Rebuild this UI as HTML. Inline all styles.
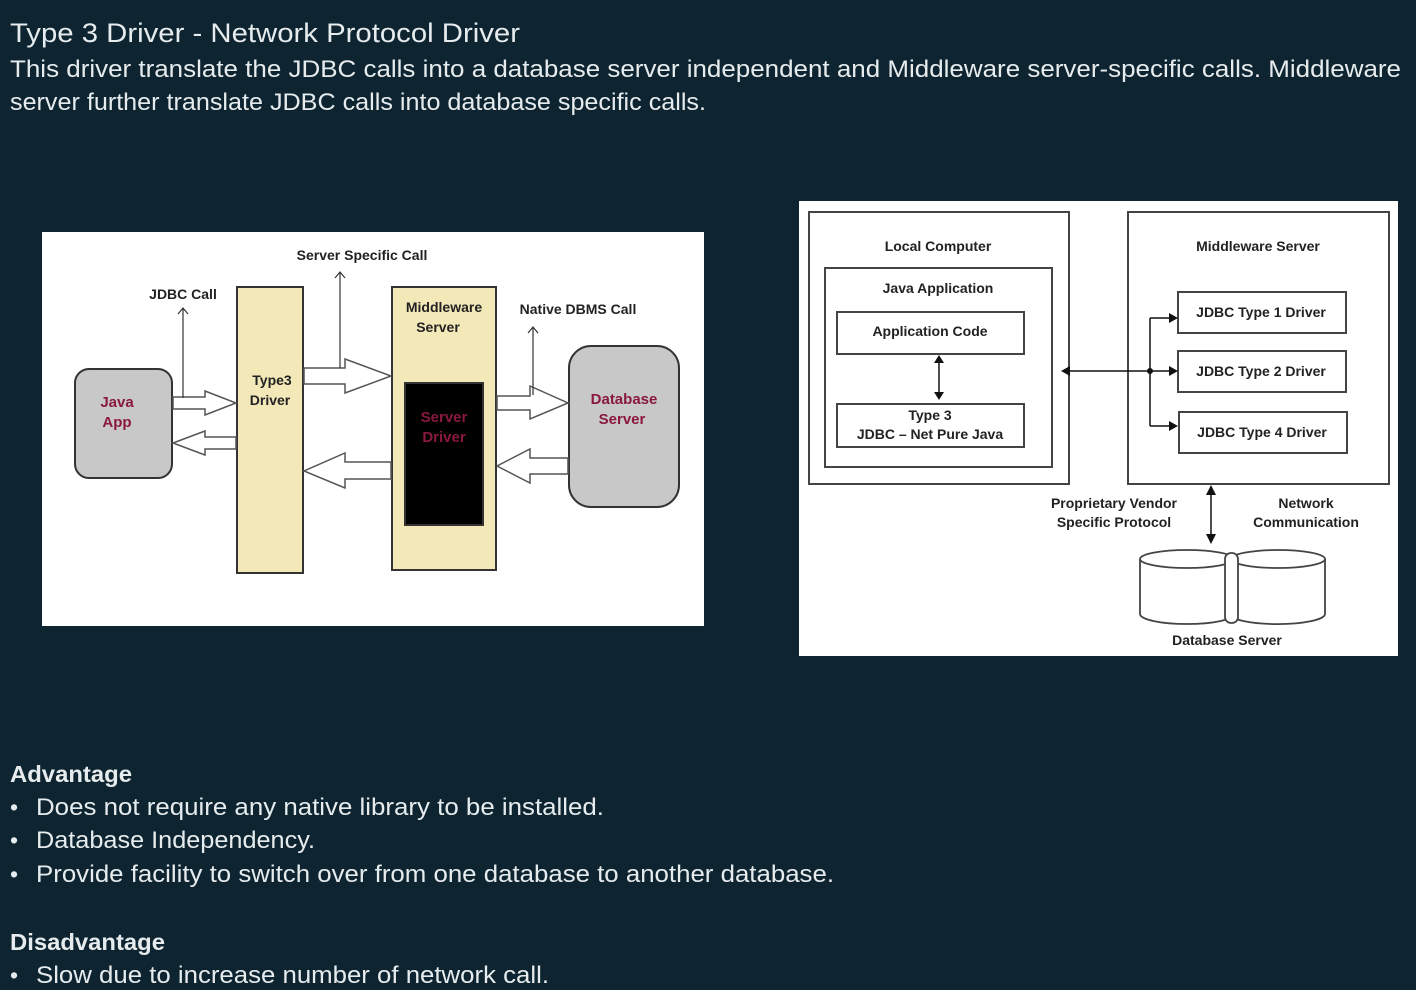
<!DOCTYPE html>
<html><head><style>
html,body{margin:0;padding:0;background:#0e2430;}
svg{display:block}
</style></head><body>
<svg width="1416" height="990" xmlns="http://www.w3.org/2000/svg" font-family="Liberation Sans, sans-serif">
<rect width="1416" height="990" fill="#0e2430"/>
<g fill="#e6ecee">
<text x="10" y="42" font-size="27" textLength="510" lengthAdjust="spacingAndGlyphs">Type 3 Driver - Network Protocol Driver</text>
<text x="10" y="77" font-size="24" textLength="1391" lengthAdjust="spacingAndGlyphs">This driver translate the JDBC calls into a database server independent and Middleware server-specific calls. Middleware</text>
<text x="10" y="110" font-size="24" textLength="696" lengthAdjust="spacingAndGlyphs">server further translate JDBC calls into database specific calls.</text>
<text x="10" y="782" font-size="23" font-weight="bold" textLength="122" lengthAdjust="spacingAndGlyphs">Advantage</text>
<text x="10" y="815" font-size="23">•</text>
<text x="36" y="815" font-size="24" textLength="568" lengthAdjust="spacingAndGlyphs">Does not require any native library to be installed.</text>
<text x="10" y="848" font-size="23">•</text>
<text x="36" y="848" font-size="24" textLength="279" lengthAdjust="spacingAndGlyphs">Database Independency.</text>
<text x="10" y="882" font-size="23">•</text>
<text x="36" y="882" font-size="24" textLength="798" lengthAdjust="spacingAndGlyphs">Provide facility to switch over from one database to another database.</text>
<text x="10" y="950" font-size="23" font-weight="bold" textLength="155" lengthAdjust="spacingAndGlyphs">Disadvantage</text>
<text x="10" y="983" font-size="23">•</text>
<text x="36" y="983" font-size="24" textLength="513" lengthAdjust="spacingAndGlyphs">Slow due to increase number of network call.</text>
</g>

<!-- left diagram -->
<rect x="42" y="232" width="662" height="394" fill="#fff"/>
<g stroke="#333" stroke-width="2">
<rect x="75" y="369" width="97" height="109" rx="14" fill="#c8c8c8"/>
<rect x="237" y="287" width="66" height="286" fill="#f2e8b8"/>
<rect x="392" y="287" width="104" height="283" fill="#f2e8b8"/>
<rect x="405" y="383" width="78" height="142" fill="#000"/>
<rect x="569" y="346" width="110" height="161" rx="22" fill="#c8c8c8"/>
</g>
<g stroke="#555" stroke-width="1.5" fill="#fff">
<polygon points="173,397 205,397 205,391 236,403 205,415 205,409 173,409"/>
<polygon points="236,437 205,437 205,431 173,443 205,455 205,449 236,449"/>
<polygon points="304,368 345,368 345,359 391,376 345,393 345,384 304,384"/>
<polygon points="391,462 345,462 345,453 304,471 345,488 345,479 391,479"/>
<polygon points="497,396 530,396 530,386 568,403 530,419 530,410 497,410"/>
<polygon points="568,458 530,458 530,449 497,466 530,483 530,474 568,474"/>
</g>
<g stroke="#333" stroke-width="1.2" fill="none">
<path d="M183 398V308M178 314L183 308L188 314"/>
<path d="M340 368V272M335 278L340 272L345 278"/>
<path d="M533 395V327M528 333L533 327L538 333"/>
</g>
<g font-size="14" font-weight="bold" fill="#222" text-anchor="middle">
<text x="362" y="260">Server Specific Call</text>
<text x="183" y="299">JDBC Call</text>
<text x="578" y="314">Native DBMS Call</text>
<text x="444" y="312">Middleware</text>
<text x="438" y="332">Server</text>
<text x="272" y="385">Type3</text>
<text x="270" y="405">Driver</text>
</g>
<g font-size="15" font-weight="bold" fill="#8a1840" text-anchor="middle">
<text x="117" y="407">Java</text>
<text x="117" y="427">App</text>
<text x="444" y="422">Server</text>
<text x="444" y="442">Driver</text>
<text x="624" y="404">Database</text>
<text x="622" y="424">Server</text>
</g>

<!-- right diagram -->
<rect x="799" y="201" width="599" height="455" fill="#fff"/>
<g stroke="#444" stroke-width="2" fill="none">
<rect x="809" y="212" width="260" height="272"/>
<rect x="825" y="268" width="227" height="199"/>
<rect x="837" y="312" width="187" height="42"/>
<rect x="837" y="404" width="187" height="43"/>
<rect x="1128" y="212" width="261" height="272"/>
<rect x="1178" y="292" width="168" height="41"/>
<rect x="1178" y="351" width="168" height="41"/>
<rect x="1179" y="412" width="168" height="41"/>
</g>
<g stroke="#111" stroke-width="1.5" fill="none">
<path d="M939 360V398"/>
<path d="M1068 371H1170"/>
<path d="M1150 318V426"/>
<path d="M1150 318H1170M1150 426H1170"/>
<path d="M1211 490V538"/>
</g>
<g fill="#111">
<polygon points="934,363 944,363 939,355"/>
<polygon points="934,392 944,392 939,400"/>
<polygon points="1061,371 1070,366 1070,376"/>
<polygon points="1178,318 1169,313 1169,323"/>
<polygon points="1178,371 1169,366 1169,376"/>
<polygon points="1178,426 1169,421 1169,431"/>
<circle cx="1150" cy="371" r="3"/>
<polygon points="1211,485 1206,495 1216,495"/>
<polygon points="1211,544 1206,534 1216,534"/>
</g>
<g stroke="#444" stroke-width="1.8" fill="#fff">
<path d="M1140 559V614A47 10 0 0 0 1234 614V559"/>
<ellipse cx="1187" cy="559" rx="47" ry="9"/>
<path d="M1230 559V614A47 10 0 0 0 1325 614V559"/>
<ellipse cx="1278" cy="559" rx="47" ry="9"/>
<rect x="1225" y="553" width="13" height="70" rx="6"/>
</g>
<g font-size="14" font-weight="bold" fill="#222" text-anchor="middle">
<text x="938" y="251">Local Computer</text>
<text x="938" y="293">Java Application</text>
<text x="930" y="336">Application Code</text>
<text x="930" y="420">Type 3</text>
<text x="930" y="439">JDBC – Net Pure Java</text>
<text x="1258" y="251">Middleware Server</text>
<text x="1261" y="317">JDBC Type 1 Driver</text>
<text x="1261" y="376">JDBC Type 2 Driver</text>
<text x="1262" y="437">JDBC Type 4 Driver</text>
<text x="1114" y="508">Proprietary Vendor</text>
<text x="1114" y="527">Specific  Protocol</text>
<text x="1306" y="508">Network</text>
<text x="1306" y="527">Communication</text>
<text x="1227" y="645">Database Server</text>
</g>
</svg>
</body></html>
